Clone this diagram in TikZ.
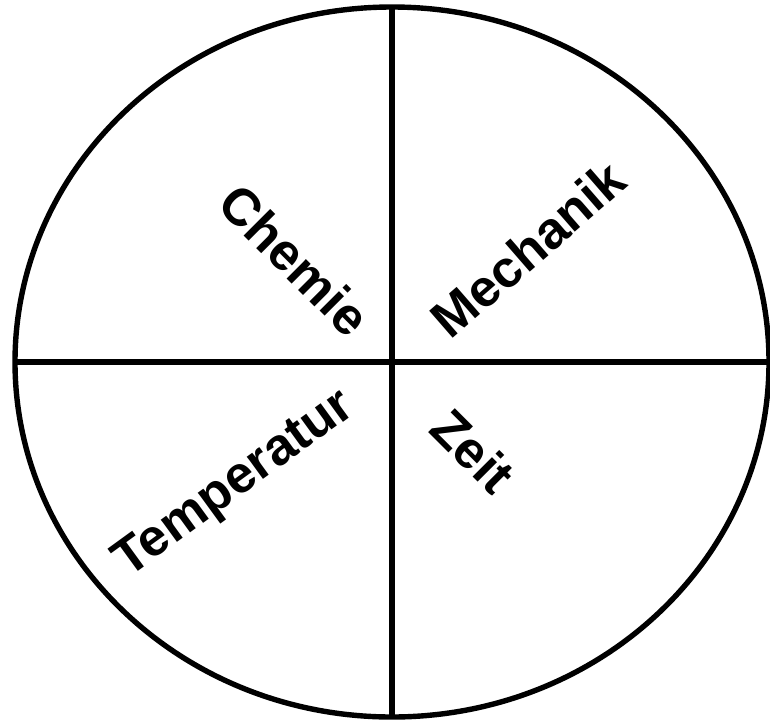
\documentclass[tikz,border=0pt]{standalone}
\usepackage{fontspec}
\setmainfont{Liberation Sans}
\usetikzlibrary{shapes.geometric}

\begin{document}
\begin{tikzpicture}[
    x=0.5pt, y=-0.5pt,
    font=\bfseries\fontsize{26}{31}\selectfont,
    disc/.style={ellipse, draw=black, line width=2.7pt, minimum width=377pt,
                 minimum height=355pt, inner sep=0pt, outer sep=0pt},
    field/.style={inner sep=0pt, rotate=#1},
    split/.style={line width=2.7pt},
]
\useasboundingbox (0,0) rectangle (770,723);

% --- the disc ---
\node[disc] (disc) at (392,362) {};

% --- cross ---
\draw[split] (disc.north) -- (disc.south);
\draw[split] (disc.west) -- (disc.east);

% --- quadrant labels ---
\node[field=-45] (chem) at (295,260) {Chemie};
\node[field=41]  (mech) at (528,249) {Mechanik};
\node[field=36]  (temp) at (235,485) {Temperatur};
\node[field=-45] (zeit) at (473,451) {Zeit};
\end{tikzpicture}
\end{document}
